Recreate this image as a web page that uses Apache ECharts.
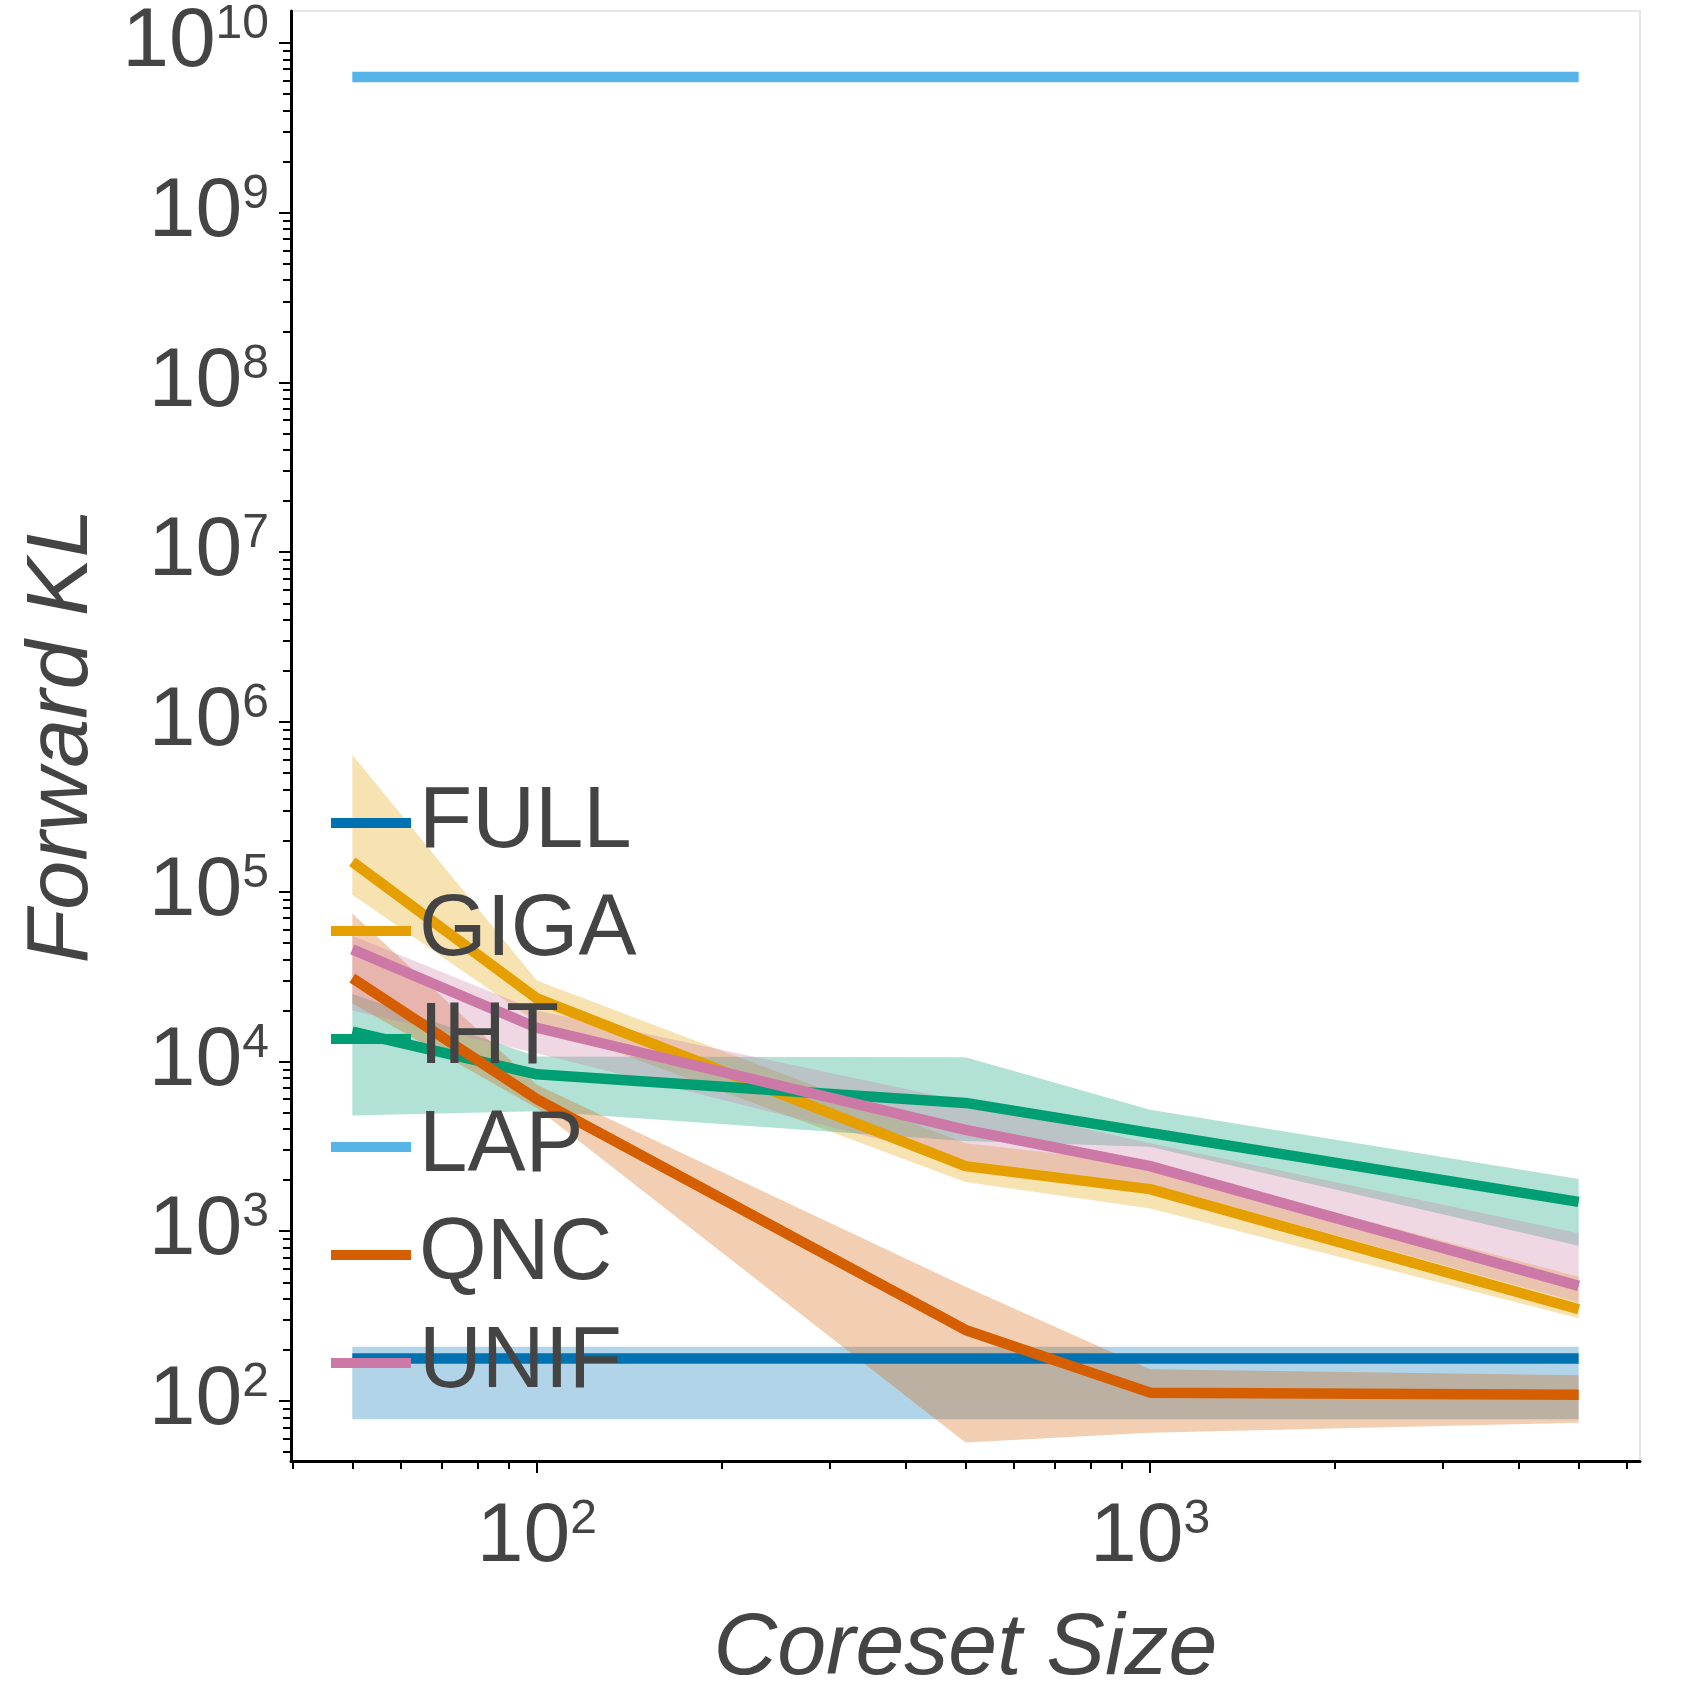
<!DOCTYPE html>
<html>
<head>
<meta charset="utf-8">
<title>Forward KL vs Coreset Size</title>
<script src="https://cdn.jsdelivr.net/npm/echarts@6/dist/echarts.min.js"></script>
<style>
  html, body { margin: 0; padding: 0; background: #fff; }
  #chart { width: 1700px; height: 1700px; }
</style>
</head>
<body>
<div id="chart"></div>
<script>
// coreset sizes (x)
const coresetSizes = [50, 100, 500, 1000, 5000];

// mean and band (low / high) per method
const fullMean = [178, 178, 178, 178, 178];
const fullLow  = [78, 78, 78, 78, 78];
const fullHigh = [209, 209, 209, 209, 209];

const gigaMean = [1.5e5, 2.35e4, 2.42e3, 1.77e3, 347];
const gigaLow  = [9.6e4, 1.7e4, 1.95e3, 1.36e3, 307];
const gigaHigh = [6.4e5, 3.0e4, 3.3e3, 2.5e3, 539];

const ihtMean = [1.5e4, 8.4e3, 5.7e3, 3.8e3, 1.49e3];
const ihtLow  = [4.8e3, 5.1e3, 3.4e3, 3.15e3, 822];
const ihtHigh = [2.5e4, 1.07e4, 1.06e4, 5.2e3, 2.03e3];

const lapMean = [6.3e9, 6.3e9, 6.3e9, 6.3e9, 6.3e9];

const qncMean = [3.1e4, 6.0e3, 262, 112, 109];
const qncLow  = [2.2e4, 5.3e3, 57, 65, 74.5];
const qncHigh = [7.45e4, 7.3e3, 471, 154, 142];

const unifMean = [4.57e4, 1.58e4, 3.95e3, 2.42e3, 477];
const unifLow  = [2.0e4, 1.12e4, 2.6e3, 1.9e3, 380];
const unifHigh = [5.5e4, 2.0e4, 5.8e3, 3.3e3, 973];

// ticks (powers of ten) and minor multipliers
const xMajorExp = [2, 3];
const yMajorExp = [2, 3, 4, 5, 6, 7, 8, 9, 10];
const minorMult = [2, 3, 4, 5, 6, 7, 8, 9];

const fontFamily = '"Liberation Sans", Arial, Helvetica, sans-serif';
const textColor = '#444';

const lg = v => Math.log10(v);

// axis limits in log10 units
const xMin = 1.599, xMax = 3.799;
const yMin = 1.6466, yMax = 10.188;

function minorTicks(lo, hi) {
    const out = [];
    for (let k = Math.floor(lo); k <= Math.ceil(hi); k++) {
        minorMult.forEach(m => {
            const v = lg(m) + k;
            if (v > lo && v < hi) out.push(v);
        });
    }
    return out;
}

function hexToRgba(hex, a) {
    const n = parseInt(hex.slice(1), 16);
    return 'rgba(' + (n >> 16) + ',' + ((n >> 8) & 255) + ',' + (n & 255) + ',' + a + ')';
}

const powerLabel = {
    formatter: v => '{b|10}{e|' + Math.round(v) + '}',
    rich: {
        b: { fontSize: 84, lineHeight: 84, color: textColor, fontFamily: fontFamily, verticalAlign: 'bottom' },
        e: { fontSize: 48, lineHeight: 48, color: textColor, fontFamily: fontFamily, verticalAlign: 'top' }
    }
};

const series = [];
function addMethod(name, color, mean, low, high) {
    series.push({
        name: name,
        type: 'line',
        data: coresetSizes.map((x, i) => [lg(x), lg(mean[i])]),
        symbol: 'none',
        lineStyle: { color: color, width: 10.5 },
        itemStyle: { color: color },
        emphasis: { disabled: true }
    });
    if (!low) return;
    // shaded band between low and high, drawn as one polygon
    series.push({
        name: name + ' band',
        type: 'custom',
        silent: true,
        data: coresetSizes.map((x, i) => [lg(x), lg(low[i]), lg(high[i])]),
        encode: { x: 0, y: [1, 2] },
        renderItem: function (params, api) {
            if (params.dataIndex !== 0) return null;
            const upper = coresetSizes.map((x, i) => api.coord([lg(x), lg(high[i])]));
            const lower = coresetSizes.map((x, i) => api.coord([lg(x), lg(low[i])])).reverse();
            return {
                type: 'polygon',
                shape: { points: upper.concat(lower) },
                style: { fill: hexToRgba(color, 0.3) }
            };
        }
    });
}

addMethod('FULL', '#0072B2', fullMean, fullLow, fullHigh);
addMethod('GIGA', '#E69F00', gigaMean, gigaLow, gigaHigh);
addMethod('IHT', '#009E73', ihtMean, ihtLow, ihtHigh);
addMethod('LAP', '#56B4E9', lapMean);
addMethod('QNC', '#D55E00', qncMean, qncLow, qncHigh);
addMethod('UNIF', '#CC79A7', unifMean, unifLow, unifHigh);

const chart = echarts.init(document.getElementById('chart'), null, { renderer: 'canvas' });

const option = {
    animation: false,
    backgroundColor: '#fff',
    grid: {
        left: 291, right: 60, top: 11, bottom: 239,
        show: true, borderColor: '#e5e5e5', borderWidth: 2,
        containLabel: false, outerBoundsMode: 'none'
    },
    legend: {
        data: ['FULL', 'GIGA', 'IHT', 'LAP', 'QNC', 'UNIF'].map(n => ({ name: n, icon: 'rect' })),
        orient: 'vertical',
        left: 331,
        top: 773,
        padding: 0,
        itemWidth: 80,
        itemHeight: 10,
        itemGap: 8,
        itemStyle: { borderWidth: 0 },
        textStyle: {
            fontSize: 87, lineHeight: 88, padding: [12, 0, 0, 3],
            color: textColor, fontFamily: fontFamily
        },
        selectedMode: false,
        z: 10
    },
    xAxis: [
        {
            type: 'value', min: xMin, max: xMax, position: 'bottom',
            axisLine: { show: true, onZero: false, lineStyle: { color: '#000', width: 3 } },
            axisTick: { show: true, length: 12, customValues: xMajorExp, lineStyle: { color: '#000', width: 2 } },
            axisLabel: Object.assign({ customValues: xMajorExp, margin: 35 }, powerLabel),
            splitLine: { show: false },
            name: 'Coreset Size', nameLocation: 'middle', nameGap: 145,
            nameTextStyle: { fontSize: 88, fontStyle: 'italic', color: textColor, fontFamily: fontFamily }
        },
        {
            type: 'value', min: xMin, max: xMax, position: 'bottom',
            axisLine: { show: false, onZero: false },
            axisTick: { show: true, length: 8, customValues: minorTicks(xMin, xMax), lineStyle: { color: '#000', width: 2 } },
            axisLabel: { show: false },
            splitLine: { show: false }
        }
    ],
    yAxis: [
        {
            type: 'value', min: yMin, max: yMax, position: 'left',
            axisLine: { show: true, onZero: false, lineStyle: { color: '#000', width: 3 } },
            axisTick: { show: true, length: 12, customValues: yMajorExp, lineStyle: { color: '#000', width: 2 } },
            axisLabel: Object.assign({ customValues: yMajorExp, margin: 22 }, powerLabel),
            splitLine: { show: false },
            name: 'Forward KL', nameLocation: 'middle', nameGap: 184,
            nameTextStyle: { fontSize: 88, fontStyle: 'italic', color: textColor, fontFamily: fontFamily }
        },
        {
            type: 'value', min: yMin, max: yMax, position: 'left',
            axisLine: { show: false, onZero: false },
            axisTick: { show: true, length: 8, customValues: minorTicks(yMin, yMax), lineStyle: { color: '#000', width: 2 } },
            axisLabel: { show: false },
            splitLine: { show: false }
        }
    ],
    series: series
};

chart.setOption(option);
</script>
</body>
</html>
